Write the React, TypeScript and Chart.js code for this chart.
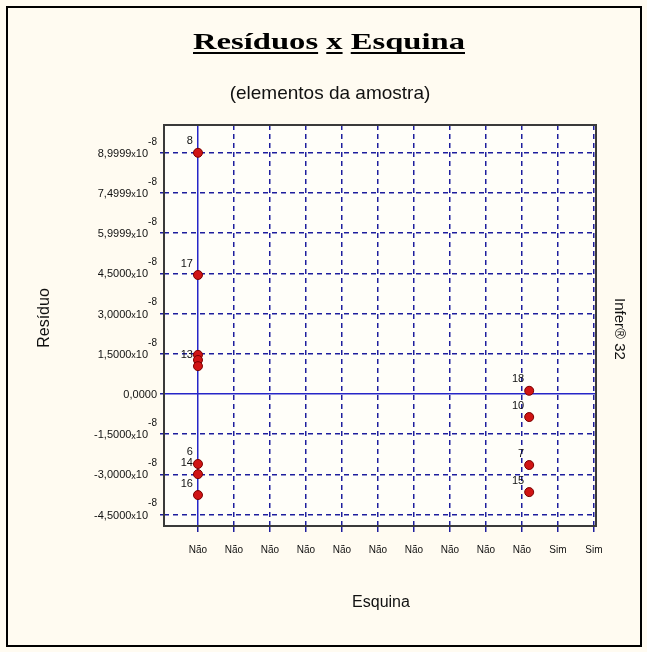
import React, { useEffect, useRef } from 'react';
import { Chart, registerables } from 'chart.js';

Chart.register(...registerables);

// ---- data ----
const xCategories = ['Não', 'Não', 'Não', 'Não', 'Não', 'Não', 'Não', 'Não', 'Não', 'Não', 'Sim', 'Sim'];
const yTickValues = [-4.5e-8, -3.0e-8, -1.5e-8, 0, 1.5e-8, 3.0e-8, 4.5e-8, 5.9999e-8, 7.4999e-8, 8.9999e-8];
const yTickMantissas = ['-4,5000', '-3,0000', '-1,5000', '0,0000', '1,5000', '3,0000', '4,5000', '5,9999', '7,4999', '8,9999'];
const yTickExponents = ['-8', '-8', '-8', '', '-8', '-8', '-8', '-8', '-8', '-8'];
const pointIds = ['8', '17', '', '', '13', '6', '14', '16', '18', '10', '7', '15'];
const pointX = [0, 0, 0, 0, 0, 0, 0, 0, 9.2, 9.2, 9.2, 9.2];
const pointY = [8.9999e-8, 4.44e-8, 1.46e-8, 1.27e-8, 1.04e-8, -2.61e-8, -2.99e-8, -3.77e-8, 0.12e-8, -0.86e-8, -2.65e-8, -3.66e-8];
const xRange = [-0.944, 11.056];
const yRange = [-4.925e-8, 10.037e-8];

const titleWords = ['Resíduos', 'x', 'Esquina'];
const subtitle = '(elementos da amostra)';
const yTitle = 'Resíduo';
const xTitle = 'Esquina';
const sideText = 'Infer® 32';

const GRID = '#1e1e9e';
const SOLID = '#2626c8';

const decor = {
  id: 'decor',
  beforeDraw(chart: any) {
    const { ctx, chartArea: a, width, height } = chart;
    ctx.save();
    ctx.fillStyle = '#FFFBF1';
    ctx.fillRect(0, 0, width, height);
    ctx.fillStyle = '#FFFEF9';
    ctx.fillRect(a.left, a.top, a.right - a.left, a.bottom - a.top);
    ctx.strokeStyle = '#000';
    ctx.lineWidth = 2;
    ctx.strokeRect(7, 7, width - 13, height - 13);
    ctx.restore();
  },
  beforeDatasetsDraw(chart: any) {
    const { ctx, chartArea: a } = chart;
    const ys = chart.scales.y;
    ctx.save();
    ctx.strokeStyle = '#3a3a3a';
    ctx.lineWidth = 2;
    ctx.strokeRect(a.left, a.top, a.right - a.left, a.bottom - a.top);
    // y tick labels with superscript exponents
    ctx.fillStyle = '#111';
    ctx.textBaseline = 'middle';
    ctx.textAlign = 'right';
    const rightX = a.left - 7;
    yTickValues.forEach((v, i) => {
      const py = ys.getPixelForValue(v);
      let x = rightX;
      const exp = yTickExponents[i];
      if (exp) {
        ctx.font = '10px "Liberation Sans", Arial, sans-serif';
        ctx.fillText(exp, x, py - 11);
        x -= ctx.measureText(exp).width;
        ctx.font = '11px "Liberation Sans", Arial, sans-serif';
        ctx.fillText('10', x, py + 1);
        x -= ctx.measureText('10').width;
        ctx.font = '9px "Liberation Sans", Arial, sans-serif';
        ctx.fillText('x', x, py + 2);
        x -= ctx.measureText('x').width;
      }
      ctx.font = '11px "Liberation Sans", Arial, sans-serif';
      ctx.fillText(yTickMantissas[i], x, py + 1);
    });
    ctx.restore();
  },
  afterDatasetsDraw(chart: any) {
    const { ctx } = chart;
    const meta = chart.getDatasetMeta(0);
    ctx.save();
    ctx.fillStyle = '#111';
    ctx.font = '11px "Liberation Sans", Arial, sans-serif';
    ctx.textAlign = 'right';
    ctx.textBaseline = 'bottom';
    meta.data.forEach((el: any, i: number) => {
      const t = pointIds[i];
      if (t) ctx.fillText(t, el.x - 5, el.y - 6);
    });
    ctx.restore();
  },
  afterDraw(chart: any) {
    const { ctx } = chart;
    ctx.save();
    // title
    ctx.font = 'bold 24px "Liberation Serif", "Times New Roman", serif';
    ctx.fillStyle = '#000';
    ctx.textBaseline = 'alphabetic';
    ctx.textAlign = 'left';
    const space = ctx.measureText(' ').width;
    const widths = titleWords.map((w) => ctx.measureText(w).width);
    const natural = widths.reduce((s, w) => s + w, 0) + space * (titleWords.length - 1);
    const target = 272;
    const sx = target / natural;
    const cx = 329;
    ctx.translate(cx - target / 2, 49);
    ctx.scale(sx, 1);
    let x = 0;
    titleWords.forEach((w, i) => {
      ctx.fillText(w, x, 0);
      ctx.fillRect(x, 3, widths[i], 2);
      x += widths[i] + space;
    });
    ctx.setTransform(1, 0, 0, 1, 0, 0);
    // subtitle
    ctx.font = '19px "Liberation Sans", Arial, sans-serif';
    ctx.textAlign = 'center';
    ctx.fillStyle = '#111';
    ctx.fillText(subtitle, 330, 99);
    // x title
    ctx.font = '16px "Liberation Sans", Arial, sans-serif';
    ctx.textBaseline = 'middle';
    ctx.fillText(xTitle, 381, 603);
    // y title
    ctx.save();
    ctx.translate(45, 318);
    ctx.rotate(-Math.PI / 2);
    ctx.fillText(yTitle, 0, 0);
    ctx.restore();
    // side text
    ctx.save();
    ctx.translate(619, 329);
    ctx.rotate(Math.PI / 2);
    ctx.font = '15px "Liberation Sans", Arial, sans-serif';
    ctx.fillText(sideText, 0, 0);
    ctx.restore();
    ctx.restore();
  },
};

export default function App() {
  const ref = useRef<HTMLCanvasElement | null>(null);
  useEffect(() => {
    if (!ref.current) return;
    const chart = new Chart(ref.current, {
      type: 'scatter',
      data: {
        datasets: [
          {
            data: pointX.map((x, i) => ({ x, y: pointY[i] })),
            pointRadius: 4.5,
            pointBackgroundColor: '#d01414',
            pointBorderColor: '#7a0000',
            pointBorderWidth: 1,
          },
        ],
      },
      options: {
        responsive: false,
        devicePixelRatio: 1,
        animation: false,
        layout: { padding: { left: 60, right: 51, top: 125, bottom: 60 } },
        plugins: { legend: { display: false }, tooltip: { enabled: false } },
        scales: {
          x: {
            type: 'linear',
            min: xRange[0],
            max: xRange[1],
            afterBuildTicks: (s: any) => {
              s.ticks = xCategories.map((_, i) => ({ value: i }));
            },
            afterFit: (s: any) => {
              s.height = 66;
            },
            ticks: {
              autoSkip: false,
              maxRotation: 0,
              padding: 12,
              color: '#111',
              font: { family: '"Liberation Sans", Arial, sans-serif', size: 10 },
              callback: (v: any) => xCategories[v as number] ?? '',
            },
            grid: {
              color: (c: any) => (c.tick && c.tick.value === 0 ? SOLID : GRID),
              lineWidth: 1.5,
              drawTicks: true,
              tickLength: 6,
              tickColor: GRID,
              tickWidth: 1.5,
            },
            border: {
              display: false,
              dash: (c: any) => (c.tick && c.tick.value === 0 ? [] : [5, 4]),
            },
          },
          y: {
            type: 'linear',
            min: yRange[0],
            max: yRange[1],
            afterBuildTicks: (s: any) => {
              s.ticks = yTickValues.map((v) => ({ value: v }));
            },
            afterFit: (s: any) => {
              s.width = 104;
            },
            ticks: { display: false },
            grid: {
              color: (c: any) => (c.tick && c.tick.value === 0 ? SOLID : GRID),
              lineWidth: 1.5,
              drawTicks: true,
              tickLength: 4,
              tickColor: GRID,
              tickWidth: 1.5,
            },
            border: {
              display: false,
              dash: (c: any) => (c.tick && c.tick.value === 0 ? [] : [5, 4]),
            },
          },
        },
      },
      plugins: [decor],
    } as any);
    return () => chart.destroy();
  }, []);
  return (
    <div style={{ position: 'fixed', left: 0, top: 0, width: 647, height: 652 }}>
      <canvas ref={ref} width={647} height={652} style={{ display: 'block' }} />
    </div>
  );
}
